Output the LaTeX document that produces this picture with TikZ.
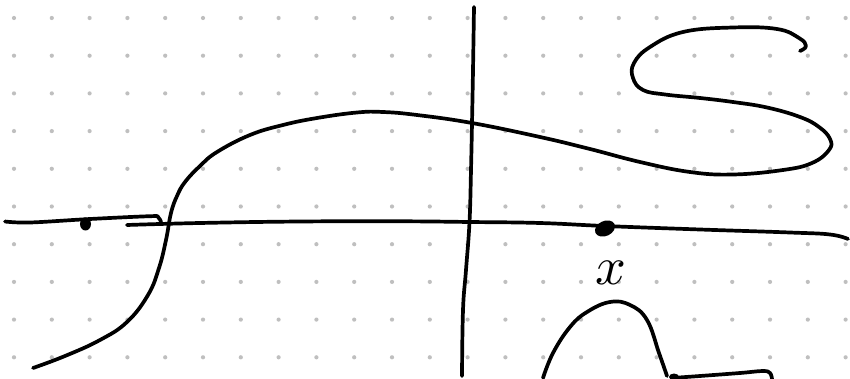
\documentclass[tikz,border=0pt]{standalone}
\begin{document}
\begin{tikzpicture}[x=1pt,y=-1pt,
  ink/.style={line width=3.7pt,line cap=round,line join=round,black},
  gdot/.style={fill=black!25,draw=none}]
\useasboundingbox (0,0) rectangle (850,379);
\fill[white] (0,0) rectangle (850,379);
% dot grid
\foreach \i in {0,...,22}{
  \foreach \j in {0,...,9}{
    \fill[gdot] ({14+\i*37.8},{18+\j*37.7}) circle (2.1);
  }
}
% vertical axis
\draw[ink] plot[smooth,tension=0.7] coordinates {(474,7) (473,70) (472,123) (471,170) (469.5,222) (466,270) (463,310) (462,376)};
% horizontal axis, left fragment with hook
\draw[ink] plot[smooth,tension=0.6] coordinates {(5,221.5) (30,222.5) (90,219) (150,216.2) (158,217) (161,222)};
% horizontal axis, main
\draw[ink] plot[smooth,tension=0.7] coordinates {(127,225) (200,223) (300,221.5) (400,221.3) (470,222) (540,223) (605,226) (700,229.5) (790,232.5) (830,234.5) (848,239)};
% points on axis
\fill[black] (85.5,224) ellipse [x radius=5.5,y radius=6.5];
\fill[black, rotate around={25:(605,228.5)}] (605,228.5) ellipse [x radius=10.5,y radius=7.5];
% label
\node[scale=5.4,line width=0.25pt] (xl) at (611,273) {$x$};
% big S-curve
\draw[ink] plot[smooth,tension=0.7] coordinates {(33,368) (65,356) (100,340) (127,322) (148,295) (159,268) (166,240) (171,213) (177,196) (185,182) (200,166) (217,152) (250,135) (283,125) (317,118) (357,112.5) (383,112) (417,115) (472,123) (540,137) (590,149) (640,162) (690,172) (733,174.5) (783,170) (812,163) (829,150) (830,139) (819,127) (800,117) (767,107.5) (733,102) (700,98) (665,94.5) (643,90) (633,78) (634,63) (650,47) (683,32) (733,27.5) (777,29) (799,38) (806,46) (800,51)};
% bottom-right bump
\draw[ink] plot[smooth,tension=0.7] coordinates {(543,378) (553,353) (570,327) (587,312) (610,302) (630,305) (647,320) (659,353) (667,376)};
\fill[black] (674,377) ellipse [x radius=5,y radius=3.5];
\draw[ink] plot[smooth,tension=0.6] coordinates {(672,378) (700,376) (740,373) (763,371) (770,373) (772,379)};
\end{tikzpicture}
\end{document}
